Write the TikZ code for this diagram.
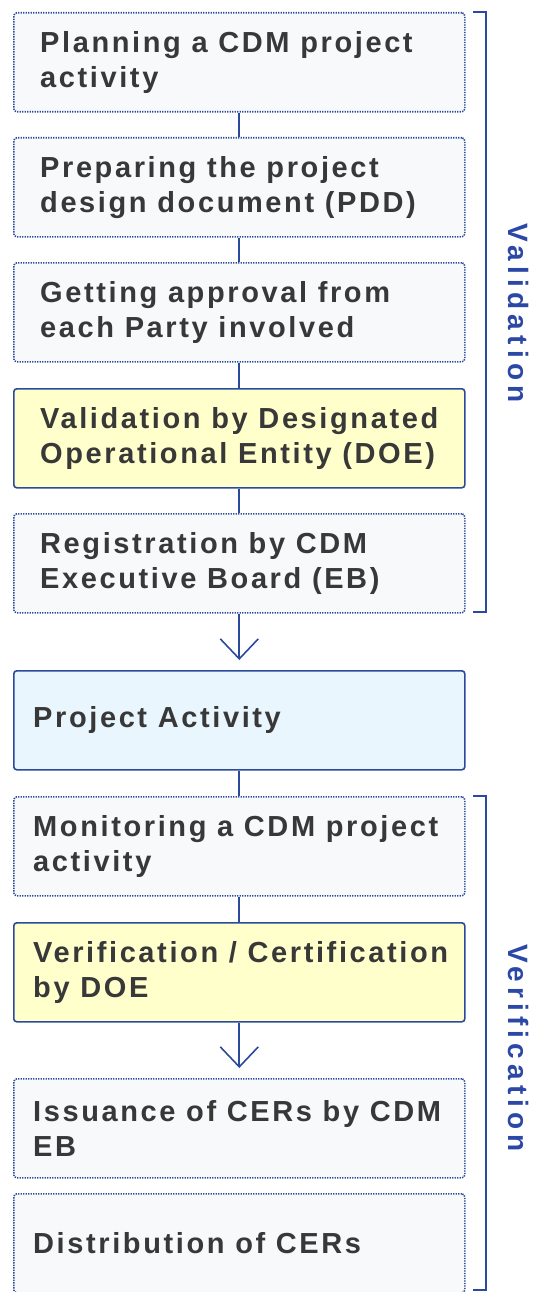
\documentclass[tikz,border=0pt]{standalone}
\usepackage{fontspec}
\usetikzlibrary{arrows.meta}
\newfontfamily\boxfont{Liberation Sans}[LetterSpace=9]
\newfontfamily\sidefont{Liberation Sans}[LetterSpace=18.5]
\definecolor{lineblue}{HTML}{2A4B9B}
\definecolor{labelblue}{HTML}{2B48A6}
\definecolor{plainfill}{HTML}{F8F9FB}
\definecolor{yellowfill}{HTML}{FFFFCC}
\definecolor{cyanfill}{HTML}{EAF6FD}
\definecolor{textgray}{HTML}{383838}
\begin{document}
\begin{tikzpicture}[x=1pt,y=-1pt,
  boxbase/.style={rectangle, rounded corners=3pt, minimum width=451pt, minimum height=99pt, inner sep=0pt, anchor=north west},
  plainbox/.style={boxbase, draw=lineblue, fill=plainfill, line width=1.6pt, dash pattern=on 1.3pt off 1.2pt},
  yellowbox/.style={boxbase, draw=lineblue, fill=yellowfill, line width=1.6pt},
  cyanbox/.style={boxbase, draw=lineblue, fill=cyanfill, line width=1.6pt},
  boxtext/.style={anchor=west, inner sep=0pt, align=left, text=textgray, font=\boxfont\bfseries\fontsize{29}{35}\selectfont},
  conn/.style={draw=lineblue, line width=1.9pt},
  arr/.style={conn, -{Straight Barb[length=20pt, width=38pt, line width=1.6pt]}, shorten >=10pt},
  bracket/.style={draw=lineblue, line width=2.2pt},
  sidelabel/.style={rotate=-90, text=labelblue, inner sep=0pt, font=\sidefont\bfseries\fontsize{28}{30}\selectfont}
]
\useasboundingbox (0,0) rectangle (533,1292);
\fill[white] (0,0) rectangle (533,1292);

\node[plainbox] (b1) at (13,12) {};
\node[plainbox] (b2) at (13,137) {};
\node[plainbox] (b3) at (13,262) {};
\node[yellowbox] (b4) at (13,388) {};
\node[plainbox] (b5) at (13,513) {};
\node[cyanbox] (b6) at (13,670) {};
\node[plainbox] (b7) at (13,796) {};
\node[yellowbox] (b8) at (13,922) {};
\node[plainbox] (b9) at (13,1078) {};
\node[plainbox] (b10) at (13,1193) {};

\node[boxtext] (t1) at ([xshift=27pt]b1.west) {Planning a CDM project\\activity};
\node[boxtext] (t2) at ([xshift=27pt]b2.west) {Preparing the project\\design document (PDD)};
\node[boxtext] (t3) at ([xshift=27pt]b3.west) {Getting approval from\\each Party involved};
\node[boxtext] (t4) at ([xshift=27pt]b4.west) {Validation by Designated\\Operational Entity (DOE)};
\node[boxtext] (t5) at ([xshift=27pt]b5.west) {Registration by CDM\\Executive Board (EB)};
\node[boxtext] (t6) at ([xshift=20pt]b6.west) {Project Activity};
\node[boxtext] (t7) at ([xshift=20pt]b7.west) {Monitoring a CDM project\\activity};
\node[boxtext] (t8) at ([xshift=20pt]b8.west) {Verification / Certification\\by DOE};
\node[boxtext] (t9) at ([xshift=20pt]b9.west) {Issuance of CERs by CDM\\EB};
\node[boxtext] (t10) at ([xshift=20pt]b10.west) {Distribution of CERs};

\draw[conn] (b1.south) -- (b2.north);
\draw[conn] (b2.south) -- (b3.north);
\draw[conn] (b3.south) -- (b4.north);
\draw[conn] (b4.south) -- (b5.north);
\draw[arr] (b5.south) -- (b6.north);
\draw[conn] (b6.south) -- (b7.north);
\draw[conn] (b7.south) -- (b8.north);
\draw[arr] (b8.south) -- (b9.north);

\coordinate (va) at (473,12);
\coordinate (vb) at (486,12);
\coordinate (vc) at (486,612);
\coordinate (vd) at (473,612);
\draw[bracket] (va) -- (vb) -- (vc) -- (vd);
\coordinate (wa) at (473,796);
\coordinate (wb) at (486,796);
\coordinate (wc) at (486,1290);
\coordinate (wd) at (473,1290);
\draw[bracket] (wa) -- (wb) -- (wc) -- (wd);

\node[sidelabel] (lv) at (519,313) {Validation};
\node[sidelabel] (lw) at (519,1048) {Verification};
\end{tikzpicture}
\end{document}
